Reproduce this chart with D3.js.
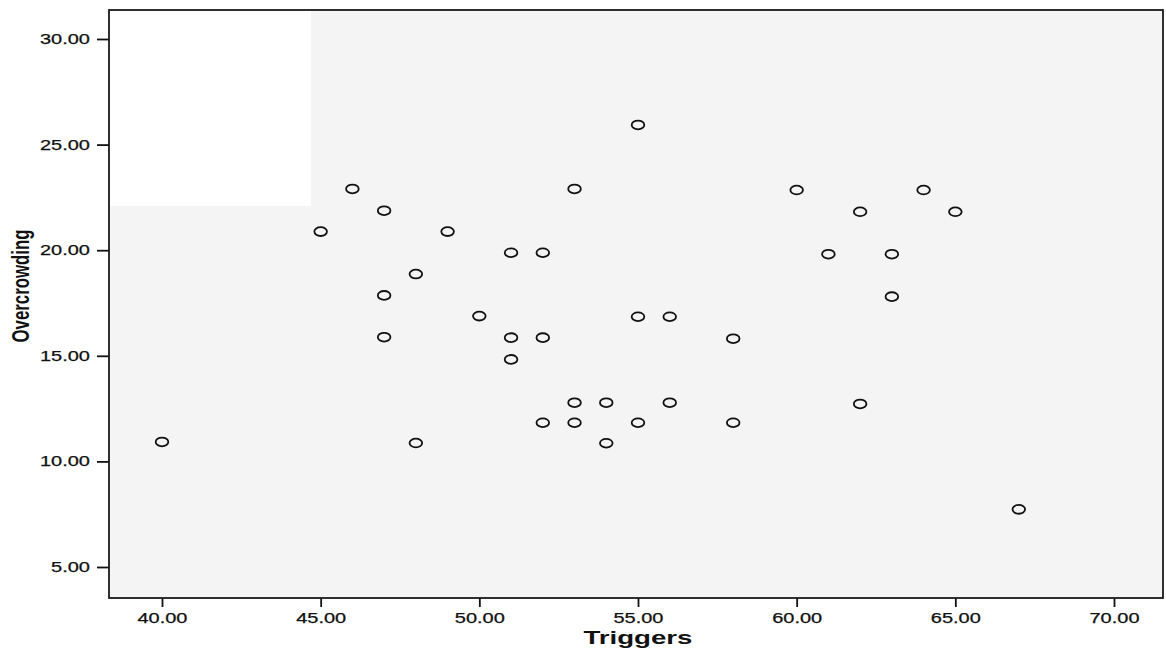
<!DOCTYPE html>
<html>
<head>
<meta charset="utf-8">
<script src="https://cdn.jsdelivr.net/npm/d3@7"></script>
<style>
  html, body { margin: 0; padding: 0; background: #ffffff; }
  svg { display: block; }
</style>
</head>
<body>
<svg id="chart" width="1166" height="655"></svg>
<script>
// ---- data ----
const triggers = [40, 45, 46, 47, 47, 47, 48, 48, 49, 50, 51, 51, 51, 52, 52, 52, 53, 53, 53,
                  54, 54, 55, 55, 55, 56, 56, 58, 58, 60, 61, 62, 62, 63, 63, 64, 65, 67];
const overcrowding = [10.92, 20.88, 22.90, 21.87, 17.86, 15.88, 18.87, 10.87, 20.88, 16.88,
                      19.88, 15.86, 14.83, 19.88, 15.86, 11.83, 22.90, 12.78, 11.83,
                      12.78, 10.86, 25.93, 16.85, 11.83, 16.85, 12.78, 15.81, 11.83,
                      22.85, 19.81, 21.82, 12.72, 19.81, 17.80, 22.85, 21.82, 7.73];
const xTicks = [40, 45, 50, 55, 60, 65, 70];
const yTicks = [5, 10, 15, 20, 25, 30];
const xTitle = "Triggers";
const yTitle = "Overcrowding";

const points = triggers.map((t, i) => ({ x: t, y: overcrowding[i] }));

// ---- layout ----
const pLeft = 109, pRight = 1163, pTop = 10, pBottom = 598;
const svg = d3.select("#chart");

const x = d3.scaleLinear().domain([38.33, 71.544]).range([pLeft, pRight]);
const y = d3.scaleLinear().domain([3.532, 31.373]).range([pBottom, pTop]);

// plot background (scanned grey with lighter upper-left patch)
svg.append("rect")
  .attr("x", pLeft).attr("y", pTop)
  .attr("width", pRight - pLeft).attr("height", pBottom - pTop)
  .attr("fill", "#f4f4f4");
svg.append("rect")
  .attr("x", pLeft).attr("y", pTop)
  .attr("width", 202).attr("height", 196)
  .attr("fill", "#ffffff");

// axes
const fmt = d3.format(".2f");
const xAxis = svg.append("g")
  .attr("transform", `translate(0,${pBottom})`)
  .call(d3.axisBottom(x).tickValues(xTicks).tickFormat(fmt).tickSize(9).tickPadding(6).tickSizeOuter(0));
const yAxis = svg.append("g")
  .attr("transform", `translate(${pLeft},0)`)
  .call(d3.axisLeft(y).tickValues(yTicks).tickFormat(fmt).tickSize(12).tickPadding(7).tickSizeOuter(0));

[xAxis, yAxis].forEach(g => {
  g.select(".domain").remove();
  g.selectAll(".tick line").attr("stroke", "#111").attr("stroke-width", 1.8);
  g.selectAll(".tick text")
    .attr("fill", "#111")
    .style("font-family", "'Liberation Sans', Arial, sans-serif")
    .style("font-size", "14px")
    .attr("stroke", "#111")
    .attr("stroke-width", 0.25)
    .attr("textLength", d => (fmt(d).length - 1) * 11 + 6)
    .attr("lengthAdjust", "spacingAndGlyphs");
});

// frame
svg.append("rect")
  .attr("x", pLeft).attr("y", pTop)
  .attr("width", pRight - pLeft).attr("height", pBottom - pTop)
  .attr("fill", "none")
  .attr("stroke", "#1a1a1a")
  .attr("stroke-width", 1.8);

// points
svg.append("g")
  .selectAll("ellipse")
  .data(points)
  .join("ellipse")
  .attr("cx", d => x(d.x))
  .attr("cy", d => y(d.y))
  .attr("rx", 6.3)
  .attr("ry", 4.4)
  .attr("fill", "none")
  .attr("stroke", "#111")
  .attr("stroke-width", 1.8);

// axis titles
svg.append("text")
  .attr("x", x(55))
  .attr("y", 644)
  .attr("text-anchor", "middle")
  .attr("textLength", 109)
  .attr("lengthAdjust", "spacingAndGlyphs")
  .style("font-family", "'Liberation Sans', Arial, sans-serif")
  .style("font-weight", "bold")
  .style("font-size", "19px")
  .attr("fill", "#111")
  .text(xTitle);

svg.append("text")
  .attr("transform", `translate(29,${(y(20) + y(15)) / 2 - 17}) rotate(-90)`)
  .attr("text-anchor", "middle")
  .attr("textLength", 113)
  .attr("lengthAdjust", "spacingAndGlyphs")
  .style("font-family", "'Liberation Sans Narrow', 'Arial Narrow', 'Liberation Sans', Arial, sans-serif")
  .style("font-weight", "bold")
  .style("font-size", "23px")
  .attr("fill", "#111")
  .text(yTitle);
</script>
</body>
</html>
